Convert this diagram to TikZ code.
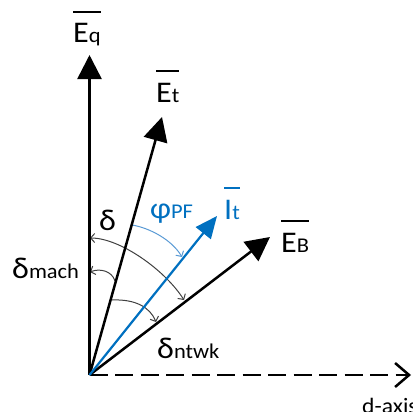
\documentclass[tikz,border=0pt]{standalone}
\usepackage{fontspec}
\setmainfont{Carlito}[FakeStretch=1.07]
\usetikzlibrary{arrows.meta}
\definecolor{pblue}{HTML}{0070C0}
\definecolor{lblue}{HTML}{5B9BD5}
\definecolor{agray}{HTML}{404040}
\newcommand{\ovl}[1]{\vbox{\hrule height 1.5pt\kern 11pt\hbox{#1}}}
\newcommand{\bigf}{\fontsize{30}{32}\selectfont}
\newcommand{\subf}{\fontsize{21}{23}\selectfont}
\begin{document}
\begin{tikzpicture}[x=1pt,y=-1pt,
  vec/.style={line width=2.5pt,-{Triangle[length=24pt,width=24pt]}},
  bvec/.style={line width=2.2pt,pblue,-{Triangle[length=22pt,width=19pt]}},
  angarc/.style={line width=1pt,agray},
  barb/.style={-{Straight Barb[length=4pt,width=9pt]}},
  lbl/.style={inner sep=0pt,anchor=base west,font=\bigf}]
\useasboundingbox (0,0) rectangle (412,412);
\coordinate (O) at (89.5,375);
\coordinate (Eq) at (89.5,55);
\coordinate (Et) at (162,117);
\coordinate (It) at (217,216);
\coordinate (EB) at (270,237);
\coordinate (D) at (411,375);
% angle arcs
\draw[angarc,{Straight Barb[length=4pt,width=9pt]}-{Straight Barb[length=4pt,width=9pt]}]
  (90,238) .. controls (120,238) and (165,270) .. (184,300);
\draw[angarc,barb] (115,281) .. controls (112,271) and (100,268) .. (90,272);
\draw[angarc,barb] (112,300) .. controls (135,299) and (150,307) .. (156,322);
\draw[line width=1pt,lblue,barb] (132,225) .. controls (150,228) and (172,240) .. (182,257);
% d-axis
\draw[line width=2.5pt,dash pattern=on 18pt off 7.5pt,-{Straight Barb[length=14pt,width=24pt]}] (O) -- (D);
% vectors
\draw[vec] (O) -- (Eq);
\draw[vec] (O) -- (Et);
\draw[vec] (O) -- (EB);
\draw[bvec] (O) -- (It);
% labels
\node[lbl] (lEq) at (73,43) {\ovl{E{\subf q}}};
\node[lbl] (lEt) at (156,102) {\ovl{E{\subf t}}};
\node[lbl,text=pblue] (lIt) at (224,219) {\ovl{I{\subf t}}};
\node[lbl] (lEB) at (281,252) {\ovl{E{\subf B}}};
\node[lbl,text=pblue] (lphi) at (150,218) {φ{\subf PF}};
\node[lbl] (ld) at (99,230) {δ};
\node[lbl] (ldm) at (12,278) {δ{\subf mach}};
\node[lbl] (ldn) at (157,358) {δ{\subf ntwk}};
\node[inner sep=0pt,anchor=base west,font=\fontsize{22}{24}\selectfont] (ldax) at (362,413) {d-axis};
\end{tikzpicture}
\end{document}
